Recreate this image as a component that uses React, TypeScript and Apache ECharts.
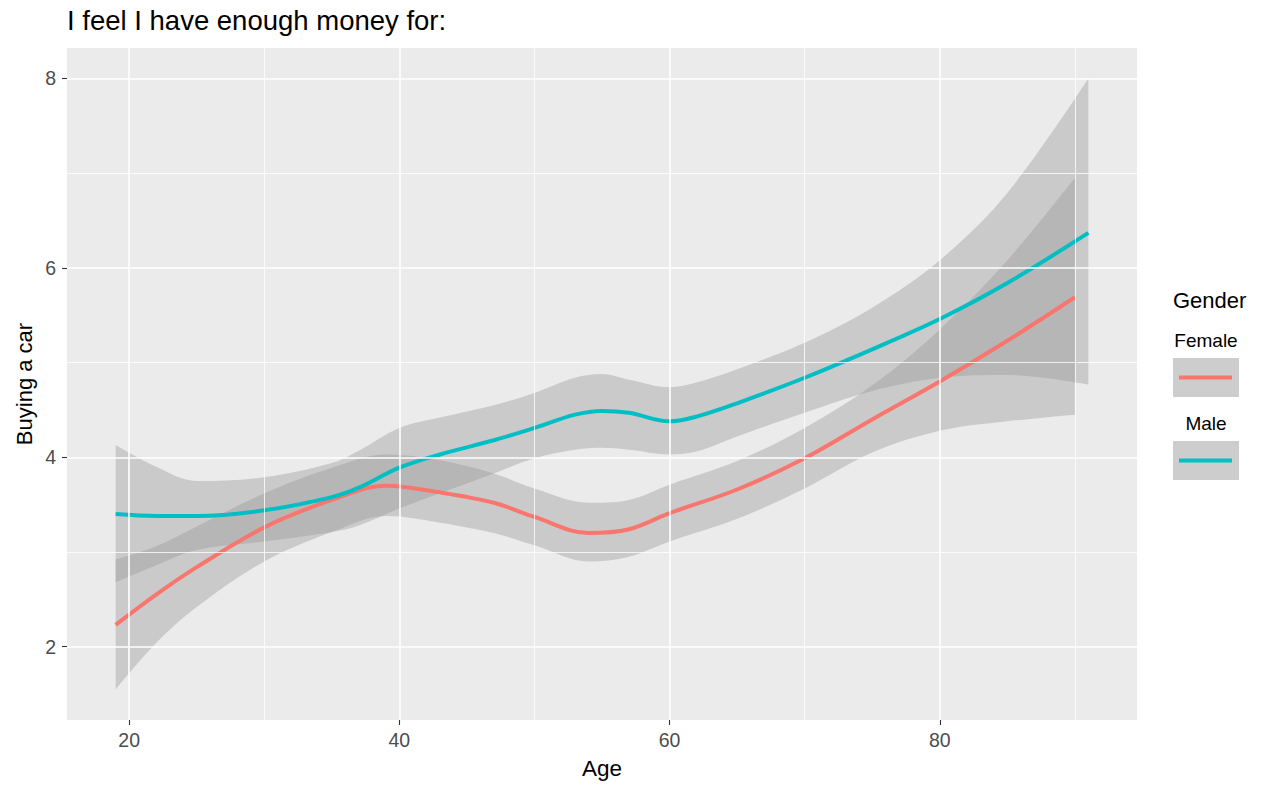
import React, { useEffect, useRef } from "react";
import * as echarts from "echarts";

// ---- Data ----
const femaleAge = [19, 22, 25, 30, 35, 39, 43, 47, 50, 54, 57, 60, 65, 70, 75, 80, 85, 90];
const femaleFit = [2.23, 2.55, 2.84, 3.26, 3.55, 3.7, 3.63, 3.52, 3.37, 3.2, 3.24, 3.41, 3.66, 3.99, 4.4, 4.8, 5.23, 5.69];
const femaleLow = [1.55, 2.04, 2.42, 2.9, 3.21, 3.38, 3.31, 3.2, 3.07, 2.9, 2.95, 3.11, 3.35, 3.67, 4.05, 4.28, 4.38, 4.45];
const femaleHigh = [2.92, 3.06, 3.27, 3.62, 3.89, 4.03, 3.97, 3.83, 3.67, 3.52, 3.55, 3.71, 3.96, 4.31, 4.76, 5.35, 6.08, 6.95];

const maleAge = [19, 22, 25, 30, 35, 37, 40, 43, 47, 50, 53, 55, 57, 60, 62, 65, 70, 75, 80, 85, 91];
const maleFit = [3.4, 3.38, 3.38, 3.44, 3.58, 3.68, 3.89, 4.03, 4.18, 4.31, 4.45, 4.49, 4.47, 4.38, 4.43, 4.57, 4.84, 5.14, 5.46, 5.84, 6.37];
const maleLow = [2.68, 2.86, 3.02, 3.11, 3.21, 3.28, 3.46, 3.62, 3.83, 3.99, 4.08, 4.1, 4.08, 4.03, 4.06, 4.22, 4.47, 4.7, 4.84, 4.87, 4.77];
const maleHigh = [4.13, 3.9, 3.75, 3.79, 3.94, 4.07, 4.31, 4.42, 4.55, 4.68, 4.84, 4.88, 4.82, 4.74, 4.79, 4.93, 5.21, 5.58, 6.08, 6.79, 8.0];

const xMajor = [20, 40, 60, 80];
const xMinor = [30, 50, 70, 90];
const yMajor = [2, 4, 6, 8];
const yMinor = [3, 5, 7];

const xRange = [15.4, 94.6];
const yRange = [1.226, 8.322];

const titleText = "I feel I have enough money for:";
const xTitle = "Age";
const yTitle = "Buying a car";
const legendTitle = "Gender";
const groups = ["Female", "Male"];
const groupColors = ["#F8766D", "#00BFC4"];

const FONT = "'Liberation Sans', Arial, Helvetica, sans-serif";
const SMOOTH = 0.35;

function pairs(xs: number[], ys: number[]) {
  return xs.map((x, i) => [x, ys[i]]);
}

// value first, age second, so that the stack sums the value dimension
function bandSeries(name: string, xs: number[], lo: number[], hi: number[]) {
  return [
    {
      name: name + "_low",
      type: "line",
      stack: name,
      data: xs.map((x, i) => [lo[i], x]),
      encode: { x: 1, y: 0 },
      smooth: SMOOTH,
      symbol: "none",
      showSymbol: false,
      lineStyle: { opacity: 0, width: 0 },
      silent: true,
      z: 2,
    },
    {
      name: name + "_band",
      type: "line",
      stack: name,
      data: xs.map((x, i) => [hi[i] - lo[i], x]),
      encode: { x: 1, y: 0 },
      smooth: SMOOTH,
      symbol: "none",
      showSymbol: false,
      lineStyle: { opacity: 0, width: 0 },
      areaStyle: { color: "rgba(153,153,153,0.4)", opacity: 1 },
      silent: true,
      z: 2,
    },
  ];
}

function fitSeries(name: string, xs: number[], ys: number[], color: string) {
  return {
    name,
    type: "line",
    data: pairs(xs, ys),
    smooth: SMOOTH,
    symbol: "none",
    showSymbol: false,
    lineStyle: { color, width: 4 },
    silent: true,
    z: 2,
  };
}

export default function App() {
  const ref = useRef<HTMLDivElement>(null);

  useEffect(() => {
    document.body.style.margin = "0";
    const chart = echarts.init(ref.current!, null, { renderer: "svg" });

    const gridLines = [
      ...xMajor.map((v) => ({ xAxis: v, lineStyle: { color: "#FFFFFF", width: 1.6, type: "solid" } })),
      ...xMinor.map((v) => ({ xAxis: v, lineStyle: { color: "#FFFFFF", width: 0.8, type: "solid" } })),
      ...yMajor.map((v) => ({ yAxis: v, lineStyle: { color: "#FFFFFF", width: 1.6, type: "solid" } })),
      ...yMinor.map((v) => ({ yAxis: v, lineStyle: { color: "#FFFFFF", width: 0.8, type: "solid" } })),
    ];

    const legendX = 1173;
    const keyW = 66;
    const keyH = 39;
    const keyTops = [358, 441];
    const labelYs = [340.5, 423];

    const legendGraphics: any[] = [
      {
        type: "text",
        left: legendX,
        top: 289,
        style: { text: legendTitle, font: `22px ${FONT}`, fill: "#000000" },
      },
    ];
    groups.forEach((g, i) => {
      legendGraphics.push({
        type: "text",
        x: legendX + keyW / 2,
        y: labelYs[i],
        style: {
          text: g,
          font: `19px ${FONT}`,
          fill: "#000000",
          align: "center",
          verticalAlign: "middle",
        },
      });
      legendGraphics.push({
        type: "rect",
        shape: { x: legendX, y: keyTops[i], width: keyW, height: keyH },
        style: { fill: "#CDCDCD" },
      });
      legendGraphics.push({
        type: "line",
        shape: {
          x1: legendX + 6,
          y1: keyTops[i] + keyH / 2,
          x2: legendX + keyW - 7,
          y2: keyTops[i] + keyH / 2,
        },
        style: { stroke: groupColors[i], lineWidth: 4 },
      });
    });

    chart.setOption({
      animation: false,
      backgroundColor: "#FFFFFF",
      grid: {
        left: 67,
        right: 133,
        top: 48,
        bottom: 71,
        show: true,
        backgroundColor: "#EBEBEB",
        borderWidth: 0,
        containLabel: false,
      },
      xAxis: {
        type: "value",
        min: xRange[0],
        max: xRange[1],
        axisLine: { show: false },
        splitLine: { show: false },
        axisTick: {
          show: true,
          customValues: xMajor,
          length: 5,
          lineStyle: { color: "#333333", width: 1.1 },
        },
        axisLabel: {
          customValues: xMajor,
          color: "#4D4D4D",
          fontSize: 19.5,
          fontFamily: FONT,
          margin: 10,
        },
      },
      yAxis: {
        type: "value",
        min: yRange[0],
        max: yRange[1],
        axisLine: { show: false },
        splitLine: { show: false },
        axisTick: {
          show: true,
          customValues: yMajor,
          length: 5,
          lineStyle: { color: "#333333", width: 1.1 },
        },
        axisLabel: {
          customValues: yMajor,
          color: "#4D4D4D",
          fontSize: 19.5,
          fontFamily: FONT,
          margin: 11,
        },
      },
      series: [
        {
          name: "grid",
          type: "line",
          data: [],
          symbol: "none",
          silent: true,
          z: 1,
          markLine: {
            silent: true,
            symbol: ["none", "none"],
            label: { show: false },
            emphasis: { disabled: true },
            animation: false,
            data: gridLines,
          },
        },
        ...bandSeries("female", femaleAge, femaleLow, femaleHigh),
        fitSeries("Female", femaleAge, femaleFit, groupColors[0]),
        ...bandSeries("male", maleAge, maleLow, maleHigh),
        fitSeries("Male", maleAge, maleFit, groupColors[1]),
      ],
      graphic: [
        {
          type: "text",
          x: 67,
          y: 20,
          style: {
            text: titleText,
            font: `27.5px ${FONT}`,
            fill: "#000000",
            verticalAlign: "middle",
          },
        },
        {
          type: "text",
          x: 602,
          y: 768.5,
          style: {
            text: xTitle,
            font: `22.5px ${FONT}`,
            fill: "#000000",
            align: "center",
            verticalAlign: "middle",
          },
        },
        {
          type: "text",
          x: 24.5,
          y: 384,
          rotation: Math.PI / 2,
          style: {
            text: yTitle,
            font: `22px ${FONT}`,
            fill: "#000000",
            align: "center",
            verticalAlign: "middle",
          },
        },
        ...legendGraphics,
      ],
    });

    return () => chart.dispose();
  }, []);

  return (
    <div
      ref={ref}
      style={{ position: "fixed", left: 0, top: 0, width: 1270, height: 791 }}
    />
  );
}
